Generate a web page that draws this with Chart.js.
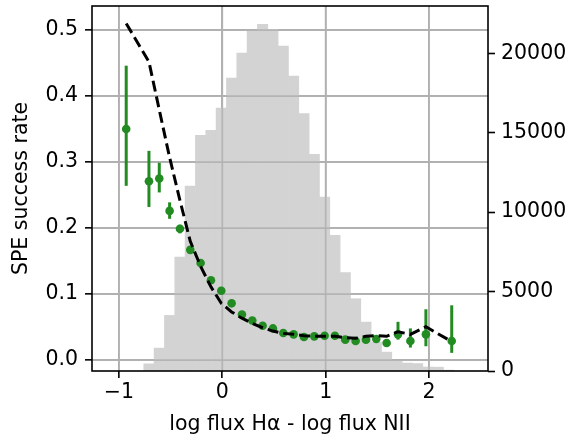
<!DOCTYPE html>
<html>
<head>
<meta charset="utf-8">
<script src="https://cdn.jsdelivr.net/npm/chart.js@4"></script>
<style>
  body { margin: 0; background: #fff; }
  #wrap { width: 571px; height: 438px; position: relative; }
</style>
</head>
<body>
<div id="wrap"><canvas id="chart"></canvas></div>
<script>
// histogram (right axis): bin centres and counts
const binCenters = [-0.71, -0.61, -0.51, -0.41, -0.31, -0.21, -0.11, -0.01, 0.09, 0.19,
                    0.29, 0.39, 0.49, 0.59, 0.69, 0.79, 0.89, 0.99, 1.09, 1.19,
                    1.29, 1.39, 1.49, 1.59, 1.69, 1.79, 1.89, 1.99, 2.09, 2.19];
const binCounts = [450, 1440, 3500, 7170, 11650, 14840, 15150, 16550, 18440, 20020,
                   21400, 21830, 21510, 20460, 18570, 16200, 13640, 10950, 8540, 6190,
                   4550, 3080, 1820, 1190, 670, 500, 470, 250, 240, 60];

// success rate (left axis): measured points with error bars, and the dashed expectation
const rateX = [-0.93, -0.71, -0.61, -0.51, -0.41, -0.31, -0.21, -0.11, -0.01, 0.09,
               0.19, 0.29, 0.39, 0.49, 0.59, 0.69, 0.79, 0.89, 0.99, 1.09,
               1.19, 1.29, 1.39, 1.49, 1.59, 1.70, 1.82, 1.97, 2.22];
const rate = [0.350, 0.271, 0.275, 0.226, 0.199, 0.167, 0.147, 0.121, 0.105, 0.086,
              0.069, 0.060, 0.052, 0.048, 0.041, 0.039, 0.035, 0.036, 0.037, 0.037,
              0.031, 0.029, 0.031, 0.032, 0.026, 0.039, 0.029, 0.039, 0.029];
const rateLow = [0.264, 0.232, 0.254, 0.214, 0.192, 0.163, 0.144, 0.118, 0.102, 0.084,
                 0.067, 0.058, 0.050, 0.046, 0.039, 0.037, 0.033, 0.034, 0.035, 0.035,
                 0.029, 0.027, 0.028, 0.029, 0.022, 0.031, 0.019, 0.021, 0.011];
const rateHigh = [0.446, 0.317, 0.299, 0.239, 0.205, 0.171, 0.150, 0.124, 0.108, 0.088,
                  0.071, 0.062, 0.054, 0.050, 0.043, 0.041, 0.037, 0.038, 0.039, 0.039,
                  0.033, 0.031, 0.034, 0.035, 0.030, 0.058, 0.048, 0.077, 0.083];
const expected = [0.510, 0.452, 0.379, 0.307, 0.242, 0.180, 0.142, 0.111, 0.086, 0.073,
                  0.0635, 0.0555, 0.049, 0.044, 0.0405, 0.039, 0.037, 0.036, 0.036, 0.036,
                  0.034, 0.033, 0.036, 0.037, 0.036, 0.043, 0.039, 0.0505, 0.028];

// tick labels
const xTicks = [-1, 0, 1, 2];
const yTicks = [0.0, 0.1, 0.2, 0.3, 0.4, 0.5];
const y2Ticks = [0, 5000, 10000, 15000, 20000];

const GREEN = '#228b22';
const GRID = '#b0b0b0';
const FONT = { family: 'DejaVu Sans', size: 20.5 };

// grid lines show through the histogram, so draw them again over the bars
const gridOverBars = {
    id: 'gridOverBars',
    afterDatasetDraw(chart, args) {
        if (args.index !== 0) return;
        const ctx = chart.ctx, a = chart.chartArea;
        const xs = chart.scales.x, ys = chart.scales.y;
        ctx.save();
        ctx.strokeStyle = 'rgba(176,176,176,0.9)';
        ctx.lineWidth = 1.7;
        xTicks.forEach(v => {
            const px = xs.getPixelForValue(v);
            ctx.beginPath(); ctx.moveTo(px, a.top); ctx.lineTo(px, a.bottom); ctx.stroke();
        });
        yTicks.forEach(v => {
            const py = ys.getPixelForValue(v);
            ctx.beginPath(); ctx.moveTo(a.left, py); ctx.lineTo(a.right, py); ctx.stroke();
        });
        ctx.restore();
    }
};

const errorBars = {
    id: 'errorBars',
    beforeDatasetDraw(chart, args) {
        if (args.index !== 1) return;
        const ctx = chart.ctx;
        const xs = chart.scales.x, ys = chart.scales.y;
        ctx.save();
        ctx.strokeStyle = GREEN;
        ctx.lineWidth = 3;
        rateX.forEach((v, i) => {
            const px = xs.getPixelForValue(v);
            ctx.beginPath();
            ctx.moveTo(px, ys.getPixelForValue(rateLow[i]));
            ctx.lineTo(px, ys.getPixelForValue(rateHigh[i]));
            ctx.stroke();
        });
        ctx.restore();
    }
};

const frame = {
    id: 'frame',
    afterDraw(chart) {
        const a = chart.chartArea, ctx = chart.ctx;
        ctx.save();
        ctx.strokeStyle = '#000';
        ctx.lineWidth = 1.6;
        ctx.strokeRect(a.left, a.top, a.right - a.left, a.bottom - a.top);
        ctx.restore();
    }
};

const fixTicks = vals => scale => { scale.ticks = vals.map(v => ({ value: v })); };
const noPad = size => s => {
    if (s.isHorizontal()) { s.height = size; s.paddingLeft = 0; s.paddingRight = 0; }
    else { s.width = size; s.paddingTop = 0; s.paddingBottom = 0; }
};

new Chart(document.getElementById('chart'), {
    type: 'bar',
    data: {
        datasets: [
            {
                type: 'bar',
                data: binCenters.map((c, i) => ({ x: c, y: binCounts[i] })),
                yAxisID: 'y2',
                backgroundColor: '#d3d3d3',
                borderWidth: 0,
                barPercentage: 1,
                categoryPercentage: 1,
                order: 3
            },
            {
                type: 'line',
                data: rateX.map((v, i) => ({ x: v, y: rate[i] })),
                yAxisID: 'y',
                showLine: false,
                pointRadius: 4.3,
                pointBorderWidth: 0,
                pointBackgroundColor: GREEN,
                order: 2
            },
            {
                type: 'line',
                data: rateX.map((v, i) => ({ x: v, y: expected[i] })),
                yAxisID: 'y',
                borderColor: '#000',
                borderWidth: 3,
                borderDash: [11, 5],
                pointRadius: 0,
                tension: 0,
                order: 1
            }
        ]
    },
    options: {
        responsive: true,
        maintainAspectRatio: false,
        animation: false,
        layout: { padding: { top: 6, left: 0, right: 0, bottom: 0 } },
        plugins: { legend: { display: false }, tooltip: { enabled: false } },
        scales: {
            x: {
                type: 'linear',
                min: -1.261,
                max: 2.571,
                offset: false,
                afterBuildTicks: fixTicks(xTicks),
                afterFit: noPad(67),
                grid: { color: GRID, lineWidth: 1.7, offset: false, tickColor: '#000', tickLength: 7, tickWidth: 1.6 },
                border: { display: false },
                ticks: {
                    color: '#000', font: FONT, padding: 2, maxRotation: 0,
                    callback: v => String(v).replace('-', '\u2212')
                },
                title: {
                    display: true, text: 'log flux H\u03b1 - log flux NII',
                    color: '#000', font: FONT, padding: { top: 0, bottom: 1 }
                }
            },
            y: {
                position: 'left',
                min: -0.0165,
                max: 0.5364,
                afterBuildTicks: fixTicks(yTicks),
                afterFit: noPad(92),
                grid: { color: GRID, lineWidth: 1.7, tickColor: '#000', tickLength: 7, tickWidth: 1.6 },
                border: { display: false },
                ticks: { color: '#000', font: FONT, padding: 7, callback: v => v.toFixed(1) },
                title: {
                    display: true, text: 'SPE success rate',
                    color: '#000', font: FONT, padding: { top: 9, bottom: 0 }
                }
            },
            y2: {
                position: 'right',
                min: 0,
                max: 22980,
                afterBuildTicks: fixTicks(y2Ticks),
                afterFit: noPad(83),
                grid: { drawOnChartArea: false, tickColor: '#000', tickLength: 7, tickWidth: 1.6 },
                border: { display: false },
                ticks: { color: '#000', font: FONT, padding: 6, callback: v => String(v) }
            }
        }
    },
    plugins: [gridOverBars, errorBars, frame]
});
</script>
</body>
</html>
